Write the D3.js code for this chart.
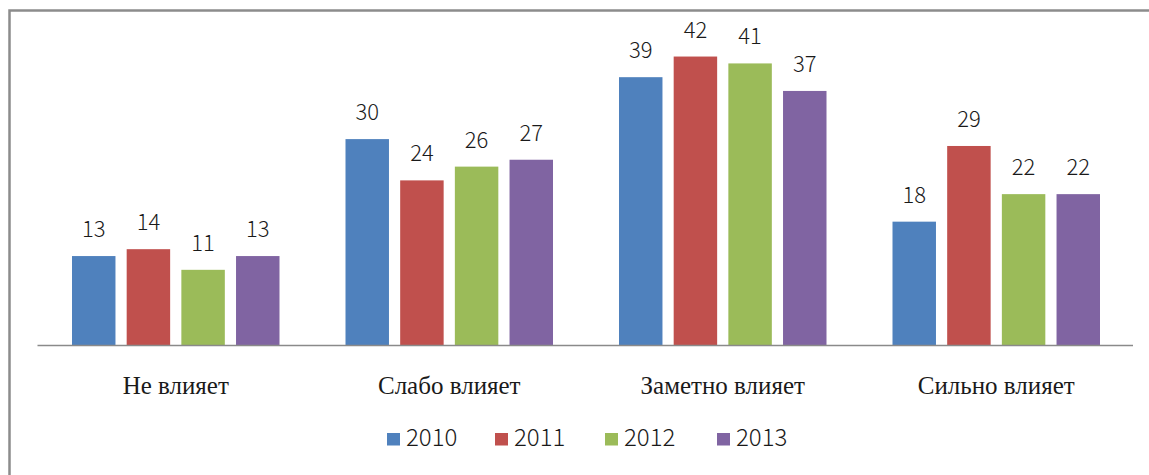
<!DOCTYPE html>
<html>
<head>
<meta charset="utf-8">
<script src="https://cdn.jsdelivr.net/npm/d3@7"></script>
<style>
  html, body { margin: 0; padding: 0; background: #ffffff; }
  svg { display: block; }
</style>
</head>
<body>
<svg id="chart" width="1149" height="475"></svg>
<script>
const categories = ["Не влияет", "Слабо влияет", "Заметно влияет", "Сильно влияет"];
const seriesNames = ["2010", "2011", "2012", "2013"];
const values2010 = [13, 30, 39, 18];
const values2011 = [14, 24, 42, 29];
const values2012 = [11, 26, 41, 22];
const values2013 = [13, 27, 37, 22];
const seriesColors = ["#4F81BD", "#C0504D", "#9BBB59", "#8064A2"];

const seriesValues = [values2010, values2011, values2012, values2013];

const svg = d3.select("#chart");
const W = 1149, H = 475;
const numFont = "'Noto Sans CJK JP', 'Liberation Sans', Arial, sans-serif";

// frame
svg.append("rect").attr("x", 0).attr("y", 0).attr("width", W).attr("height", H).attr("fill", "#fff");
svg.append("path")
  .attr("d", `M9.5,${H} L9.5,10.5 L${W},10.5`)
  .attr("fill", "none").attr("stroke", "#8c8c8c").attr("stroke-width", 2.5);

const x0 = d3.scaleBand().domain(categories).range([39, 1133]).padding(0);
const x1 = d3.scaleBand().domain(seriesNames)
  .range([33, x0.bandwidth() - 33]).paddingInner(0.205).paddingOuter(0);
const y = d3.scaleLinear().domain([0, 45]).range([345.5, 345.5 - 45 * 6.88]);

const data = [];
categories.forEach((c, ci) => {
  seriesNames.forEach((s, si) => {
    data.push({ cat: c, series: s, value: seriesValues[si][ci], color: seriesColors[si] });
  });
});

const g = svg.append("g");
g.selectAll("rect.bar").data(data).enter().append("rect")
  .attr("class", "bar")
  .attr("x", d => x0(d.cat) + x1(d.series))
  .attr("y", d => y(d.value))
  .attr("width", x1.bandwidth())
  .attr("height", d => y(0) - y(d.value))
  .attr("fill", d => d.color);

g.selectAll("text.lbl").data(data).enter().append("text")
  .attr("class", "lbl")
  .attr("x", d => x0(d.cat) + x1(d.series) + x1.bandwidth() / 2)
  .attr("y", d => y(d.value) - 19)
  .attr("text-anchor", "middle")
  .attr("font-family", numFont)
  .attr("font-weight", 300)
  .attr("font-size", 22)
  .attr("fill", "#1a1a1a")
  .text(d => d.value);

// baseline axis
const axis = d3.axisBottom(x0).tickSize(0).tickPadding(0);
const axG = svg.append("g").attr("transform", `translate(0,${y(0)})`).call(axis);
axG.select(".domain").attr("stroke", "#8a8a8a").attr("stroke-width", 1.5)
  .attr("d", `M37.5,0H1133`);
axG.selectAll(".tick text")
  .attr("y", 48)
  .attr("dy", 0)
  .attr("font-family", "'Liberation Serif', 'DejaVu Serif', serif")
  .attr("font-size", 25)
  .attr("fill", "#1a1a1a");

// legend
const legendX = [387, 495, 605, 717];
const leg = svg.append("g");
seriesNames.forEach((s, i) => {
  const lg = leg.append("g").attr("transform", `translate(${legendX[i]},0)`);
  lg.append("rect").attr("x", 0).attr("y", 433).attr("width", 13).attr("height", 12.5).attr("fill", seriesColors[i]);
  lg.append("text").attr("x", 19).attr("y", 446)
    .attr("font-family", numFont)
    .attr("font-weight", 300)
    .attr("font-size", 24)
    .attr("fill", "#1a1a1a")
    .text(s);
});
</script>
</body>
</html>
